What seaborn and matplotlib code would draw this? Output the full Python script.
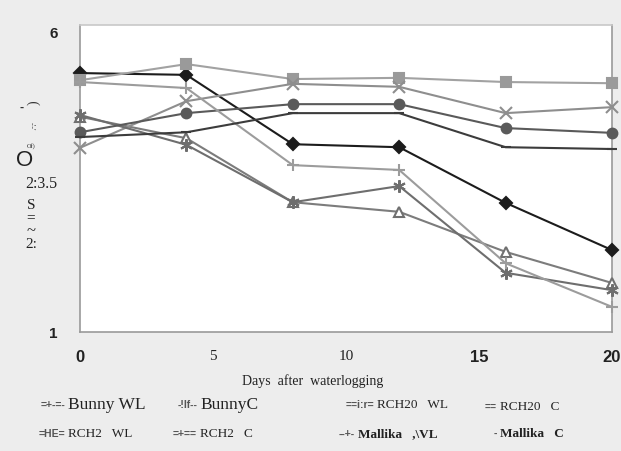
import matplotlib
matplotlib.use("Agg")
import matplotlib.pyplot as plt
import seaborn as sns
import pandas as pd

# ---- data ----
days = [0, 4, 8, 12, 16, 20]
bunny_wl = [5.33, 5.30, 4.14, 4.09, 3.16, 2.37]
bunny_c = [5.21, 5.48, 5.23, 5.25, 5.18, 5.16]
rch20_wl = [4.60, 4.24, 3.17, 3.01, 2.34, 1.82]
rch20_c = [4.08, 4.86, 5.15, 5.10, 4.66, 4.76]
rch2_wl = [4.63, 4.13, 3.17, 3.44, 1.99, 1.70]
rch2_c = [4.34, 4.66, 4.81, 4.81, 4.41, 4.33]
mallika_wl = [5.18, 5.08, 3.79, 3.71, 2.15, 1.42]
mallika_c = [4.26, 4.34, 4.66, 4.66, 4.09, 4.06]

series_names = ["Bunny WL", "Bunny C", "RCH20 WL", "RCH20 C",
                "RCH2 WL", "RCH2 C", "Mallika WL", "Mallika C"]
series_values = [bunny_wl, bunny_c, rch20_wl, rch20_c,
                 rch2_wl, rch2_c, mallika_wl, mallika_c]

x_ticks = [0, 5, 10, 15, 20]
x_tick_labels = ["0", "5", "10", "15", "20"]
y_ticks = [1, 3.5, 6]
y_tick_labels = ["1", "2:3.5", "6"]
x_label = "Days  after  waterlogging"

# ---- styling ----
styles = {
    "Bunny WL": dict(color="#1c1c1c", marker="D", ms=6, mfc="#1c1c1c", mec="#1c1c1c"),
    "Bunny C": dict(color="#a2a2a2", marker="s", ms=7, mfc="#9a9a9a", mec="#9a9a9a"),
    "RCH20 WL": dict(color="#7c7c7c", marker="^", ms=7, mfc="white", mec="#707070"),
    "RCH20 C": dict(color="#8e8e8e", marker="x", ms=8, mfc="#8e8e8e", mec="#8e8e8e"),
    "RCH2 WL": dict(color="#6e6e6e", marker=(6, 2, 0), ms=9, mfc="#6e6e6e", mec="#6e6e6e"),
    "RCH2 C": dict(color="#5a5a5a", marker="o", ms=7, mfc="#5a5a5a", mec="#5a5a5a"),
    "Mallika WL": dict(color="#9c9c9c", marker="+", ms=9, mfc="#9c9c9c", mec="#9c9c9c"),
    "Mallika C": dict(color="#3c3c3c", marker="_", ms=7, mfc="#3c3c3c", mec="#3c3c3c"),
}

sns.set_theme(style="white")
plt.rcParams["font.family"] = ["Liberation Sans", "DejaVu Sans"]

W, H = 621, 451
fig = plt.figure(figsize=(W / 100, H / 100), dpi=100, facecolor="#ededed")
ax_top, ax_bot, ax_left, ax_right = 25, 332, 80, 612
ax = fig.add_axes([ax_left / W, 1 - ax_bot / H, (ax_right - ax_left) / W, (ax_bot - ax_top) / H])
ax.set_facecolor("white")

rows = []
for name, vals in zip(series_names, series_values):
    for d, v in zip(days, vals):
        rows.append({"day": d, "value": v, "series": name})
df = pd.DataFrame(rows)

for name in series_names:
    st = styles[name]
    sub = df[df["series"] == name]
    sns.lineplot(data=sub, x="day", y="value", ax=ax, color=st["color"], lw=1.5,
                 marker=st["marker"], markersize=st["ms"], markerfacecolor=st["mfc"],
                 markeredgecolor=st["mec"], markeredgewidth=1.5, legend=False,
                 clip_on=False, zorder=3)

ax.set_xlim(0, 20)
ax.set_ylim(1, 6 + 8 / 59.8)
ax.set_xticks(x_ticks)
ax.set_xticklabels(x_tick_labels)
ax.set_yticks(y_ticks)
ax.set_yticklabels(y_tick_labels)
ax.set_xlabel("")
ax.set_ylabel("")
ax.tick_params(axis="both", length=3, width=1, color="#999999", direction="out")
ax.tick_params(axis="x", pad=10)
ax.tick_params(axis="y", pad=13)

for i, lab in enumerate(ax.get_xticklabels()):
    if x_tick_labels[i] in ("5", "10"):
        lab.set_fontfamily("Liberation Serif")
        lab.set_fontsize(11)
        lab.set_fontweight("normal")
    else:
        lab.set_fontweight("bold")
        lab.set_fontsize(12)
    lab.set_color("#222222")
for i, lab in enumerate(ax.get_yticklabels()):
    if y_tick_labels[i] == "2:3.5":
        lab.set_fontfamily("Liberation Serif")
        lab.set_fontsize(11.5)
        lab.set_fontweight("normal")
    else:
        lab.set_fontweight("bold")
        lab.set_fontsize(11)
    lab.set_color("#222222")

for side in ["left", "bottom", "right", "top"]:
    ax.spines[side].set_color("#9a9a9a")
    ax.spines[side].set_linewidth(1.2)
ax.spines["top"].set_color("#c8c8c8")


def ftext(px, py, s, **kw):
    fig.text(px / W, 1 - py / H, s, **kw)


# x axis label
ftext(313, 381, x_label, family="Liberation Serif", fontsize=10, ha="center", va="center",
      color="#222222")

# garbled y-axis label fragments
ftext(25, 160, "O", family="Liberation Sans", fontsize=16, ha="center", va="center", color="#222222")
ftext(31, 205, "S", family="Liberation Serif", fontsize=11, ha="center", va="center", color="#222222")
ftext(31, 218, "=", family="Liberation Serif", fontsize=11, ha="center", va="center",
      fontweight="bold", color="#222222")
ftext(31, 231, "~", family="Liberation Serif", fontsize=12, ha="center", va="center", color="#222222")
ftext(31, 245, "2:", family="Liberation Serif", fontsize=11, ha="center", va="center", color="#222222")
ftext(31, 146, "Of)", family="Liberation Serif", fontsize=4.5, ha="center", va="center", color="#222222")
ftext(32, 126, "-'-'", family="Liberation Serif", fontsize=6, ha="center", va="center",
      rotation=-90, color="#444444")
ftext(34, 103, ")", family="Liberation Serif", fontsize=10, ha="center", va="center",
      rotation=90, color="#333333")
ftext(22, 108, "-", family="Liberation Sans", fontsize=9, ha="center", va="center",
      fontweight="bold", color="#333333")

# legend (as in the scanned figure)
leg = [
    (37, 405, "=+-=-", 68, "Bunny WL", 12.5, "normal"),
    (177, 405, "-!If--", 200, "BunnyC", 12.5, "normal"),
    (340, 405, "==i:r=", 377, "RCH20   WL", 9.5, "normal"),
    (465, 407, "==", 500, "RCH20   C", 9.5, "normal"),
    (37, 434, "=HE=", 68, "RCH2   WL", 9.5, "normal"),
    (177, 434, "=+==", 200, "RCH2   C", 9.5, "normal"),
    (320, 434, "--+-", 358, "Mallika   ,\\VL", 9.5, "bold"),
    (476, 434, "-", 500, "Mallika   C", 9.5, "bold"),
]
for hx, hy, htxt, tx, ttxt, fs, fw in leg:
    ftext(tx - 3, hy, htxt, family="Liberation Sans", fontsize=7.5, ha="right", va="center",
          fontweight="bold", color="#555555")
    ftext(tx, hy, ttxt, family="Liberation Serif", fontsize=fs, ha="left", va="center",
          fontweight=fw, color="#222222")

fig.savefig("out.png", dpi=100, facecolor=fig.get_facecolor())
